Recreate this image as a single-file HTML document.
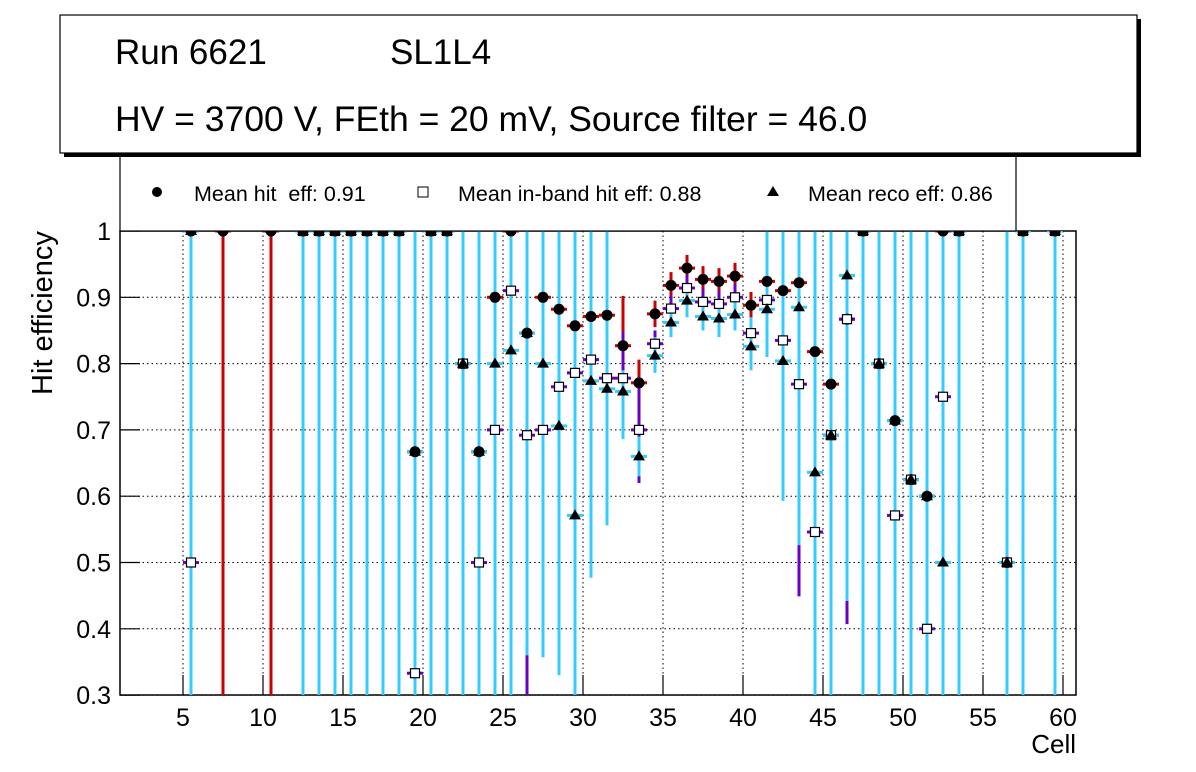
<!DOCTYPE html>
<html><head><meta charset="utf-8"><style>
body{margin:0;background:#fff;}
svg{display:block;font-family:"Liberation Sans",sans-serif;}
</style></head><body>
<svg id="c" width="1196" height="772" xmlns="http://www.w3.org/2000/svg">
<defs><clipPath id="pc"><rect x="120" y="231" width="956" height="464"/></clipPath></defs>
<rect x="120" y="231" width="956" height="464" fill="#fff" stroke="#000" stroke-width="1.5"/>
<g id="grid"></g>
<g id="axes"></g>
<g id="marks" clip-path="url(#pc)"></g>
<text x="0" y="0" transform="translate(52,313) rotate(-90)" font-size="29" text-anchor="middle">Hit efficiency</text>
<text x="1076" y="753" font-size="26" text-anchor="end">Cell</text>
<g>
<rect x="120" y="150" width="896" height="81" fill="#fff" stroke="#000" stroke-width="1.2"/>
<circle cx="157" cy="192" r="5" fill="#000"/>
<text x="194" y="201" font-size="21.5">Mean hit&#160; eff: 0.91</text>
<rect x="418" y="187" width="10" height="10" fill="#fff" stroke="#000"/>
<text x="458" y="201" font-size="21.5">Mean in-band hit eff: 0.88</text>
<polygon points="773,186 779,196 767,196" fill="#000"/>
<text x="808" y="201" font-size="21.5">Mean reco eff: 0.86</text>
</g>
<g>
<rect x="64" y="19" width="1077" height="138" fill="#000"/>
<rect x="60" y="15" width="1077" height="138" fill="#fff" stroke="#000" stroke-width="1.2"/>
<text x="115" y="64" font-size="35">Run 6621</text>
<text x="390" y="64" font-size="35">SL1L4</text>
<text x="115" y="131" font-size="35.5">HV = 3700 V, FEth = 20 mV, Source filter = 46.0</text>
</g>
</svg>
<script>
const cells=[5,7,10,12,13,14,15,16,17,18,19,20,21,22,23,24,25,26,27,28,29,30,31,32,33,34,35,36,37,38,39,40,41,42,43,44,45,46,47,48,49,50,51,52,53,56,57,59];
const hit=[1,1,1,1,1,1,1,1,1,1,0.667,1,1,0.8,0.667,0.9,1,0.846,0.9,0.882,0.857,0.871,0.873,0.827,0.771,0.875,0.918,0.944,0.927,0.924,0.932,0.888,0.924,0.91,0.922,0.818,0.769,0.867,1,0.8,0.714,0.625,0.6,1,1,0.5,1,1];
const inband=[0.5,null,null,1,1,1,1,1,1,1,0.333,1,1,0.8,0.5,0.7,0.91,0.692,0.7,0.765,0.786,0.806,0.778,0.778,0.7,0.83,0.883,0.914,0.893,0.89,0.9,0.846,0.896,0.835,0.769,0.546,0.692,0.867,1,0.8,0.571,0.625,0.4,0.75,1,0.5,1,1];
const reco=[1,null,null,1,1,1,1,1,1,1,0.667,1,1,0.8,0.667,0.8,0.82,0.846,0.8,0.706,0.571,0.774,0.762,0.758,0.66,0.812,0.862,0.895,0.871,0.868,0.874,0.826,0.882,0.804,0.885,0.636,0.692,0.933,1,0.8,0.714,0.625,0.6,0.5,1,0.5,1,1];
const hitErr=[0,1,1,0,0,0,0,0,0,0,0.01,0,0,0.01,0.01,0.015,0,0.015,0.015,0.015,0.015,0.015,0.015,0.075,0.035,0.02,0.02,0.02,0.02,0.02,0.02,0.02,0.08,0.015,0.015,0.015,0.015,0.01,0,0.01,0.01,0.01,0.01,0,0,0.01,0,0];
const inErr=[0.02,0,0,0,0,0,0,0,0,0,0.01,0,0,0.01,0.01,0.015,0.02,0.45,0.34,0.015,0.22,0.015,0.22,0.07,0.08,0.02,0.02,0.02,0.02,0.02,0.02,0.02,0.08,0.02,0.32,0.015,0.015,0.46,0,0.01,0.015,0.01,0.015,0.015,0,0.01,0,0];
const recoLo=[0,0,0,0,0,0,0,0,0,0,0,0,0,0,0,0,0,0.36,0.357,0.33,0,0.477,0.556,0.686,0.63,0.786,0.84,0.87,0.85,0.84,0.85,0.79,0.81,0.593,0.526,0,0,0.442,0,0,0,0,0,0,0,0,0,0];
const recoHi=[1,0,0,1,1,1,1,1,1,1,1,1,1,1,1,1,1,1,1,1,1,1,1,0.79,0.69,0.84,0.89,0.92,0.9,0.895,0.9,0.87,1,1,1,1,1,1,1,1,1,1,1,1,1,1,1,1];
const yTicks=[0.3,0.4,0.5,0.6,0.7,0.8,0.9,1];
const yTickLabels=["0.3","0.4","0.5","0.6","0.7","0.8","0.9","1"];
const xTicks=[5,10,15,20,25,30,35,40,45,50,55,60];

const NS="http://www.w3.org/2000/svg";
const X=v=>103+16*v;
const Y=v=>231+(1-v)*663;
function mk(tag,attrs,parent){const e=document.createElementNS(NS,tag);for(const k in attrs)e.setAttribute(k,attrs[k]);parent.appendChild(e);return e;}
const grid=document.getElementById('grid'),axes=document.getElementById('axes'),marks=document.getElementById('marks');
yTicks.forEach((t,i)=>{
  if(t<1){const g=mk('line',{x1:120,x2:1076,y1:Y(t),y2:Y(t),stroke:'#000','stroke-dasharray':'1.5,3','stroke-width':1},grid);
  
  }
  const tk=mk('line',{x1:120,x2:140,y1:Y(t),y2:Y(t),stroke:'#000','stroke-width':1.2},axes);
  
  
  const l=mk('text',{x:111,y:Y(t)+9,'font-size':25,'text-anchor':'end'},axes);
  l.textContent=yTickLabels[i];
  
  
});
xTicks.forEach(t=>{
  const g=mk('line',{x1:X(t),x2:X(t),y1:231,y2:695,stroke:'#000','stroke-dasharray':'1.5,3','stroke-width':1},grid);
  
  
  const tk=mk('line',{x1:X(t),x2:X(t),y1:675,y2:695,stroke:'#000','stroke-width':1.2},axes);
  
  
  const l=mk('text',{x:X(t),y:726,'font-size':25,'text-anchor':'middle'},axes);
  l.textContent=String(t);
  
  
});
function ebar(cx,v,lo,hi,col){
  const g=mk('g',{},marks);
  
  
  mk('line',{x1:cx,x2:cx,y1:Y(Math.min(hi,1.05)),y2:Y(Math.max(lo,0.25)),stroke:col,'stroke-width':3},g);
  mk('line',{x1:cx-8,x2:cx+8,y1:Y(v),y2:Y(v),stroke:col,'stroke-width':3},g);
}
cells.forEach((c,i)=>{
  const cx=X(c+0.5);
  if(hit[i]!=null) ebar(cx,hit[i],hit[i]-hitErr[i],hit[i]+hitErr[i],'#cc0000');
  if(inband[i]!=null) ebar(cx,inband[i],inband[i]-inErr[i],inband[i]+inErr[i],'#6a00cc');
  if(reco[i]!=null) ebar(cx,reco[i],recoLo[i],recoHi[i],'#33ccff');
});
cells.forEach((c,i)=>{
  const cx=X(c+0.5);
  if(hit[i]!=null){const m=mk('circle',{cx:cx,cy:Y(hit[i]),r:5.5,fill:'#000'},marks);
    
    }
  if(inband[i]!=null){const m=mk('rect',{x:cx-4.5,y:Y(inband[i])-4.5,width:9,height:9,fill:'#fff',stroke:'#000','stroke-width':1.2},marks);
    
    }
  if(reco[i]!=null){const y=Y(reco[i]);const m=mk('polygon',{points:`${cx},${y-6} ${cx+6},${y+4} ${cx-6},${y+4}`,fill:'#000'},marks);
    
    }
});
</script>
</body></html>
